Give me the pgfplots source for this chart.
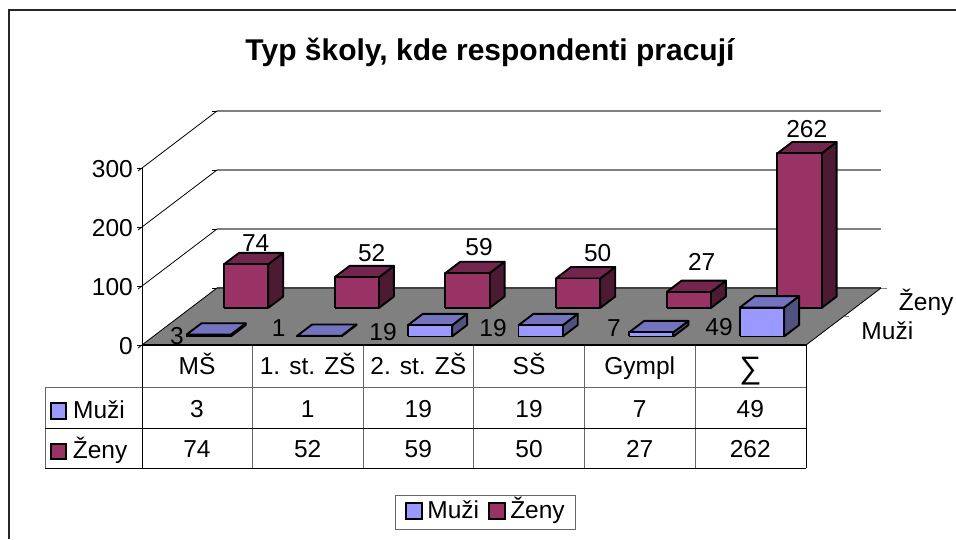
\documentclass[border=0pt]{standalone}
\usepackage{fontspec}
\setmainfont{Liberation Sans}
\usepackage{pgfplots}
\pgfplotsset{compat=1.18}
\definecolor{mf}{HTML}{9999FF}\definecolor{mt}{HTML}{7373BF}\definecolor{ms}{HTML}{525280}
\definecolor{zf}{HTML}{993366}\definecolor{zt}{HTML}{73264D}\definecolor{zs}{HTML}{4D1A33}
\definecolor{fl}{HTML}{808080}
\newcommand\fs{\fontsize{24.5}{29}\selectfont}
\newcommand\dbar[8]{%
\addplot3[forget plot,draw=black,line width=1.9pt,line join=round,fill=#8] coordinates {(#2,#3,0)(#2,#4,0)(#2,#4,#5)(#2,#3,#5)(#2,#3,0)};
\addplot3[forget plot,draw=black,line width=1.9pt,line join=round,fill=#7] coordinates {(#1,#3,#5)(#2,#3,#5)(#2,#4,#5)(#1,#4,#5)(#1,#3,#5)};
\addplot3[forget plot,draw=black,line width=1.9pt,line join=round,fill=#6] coordinates {(#1,#3,0)(#2,#3,0)(#2,#3,#5)(#1,#3,#5)(#1,#3,0)};
}
\begin{document}
\begin{tikzpicture}[x=1pt,y=-1pt]
\path[use as bounding box] (0,0) rectangle (956,539);
\draw[line width=1.6pt,draw=black!85] (9,539) -- (9,10) -- (956,10);
\begin{axis}[
 at={(142pt,-345pt)},anchor=origin,
 x={(110.67pt,0pt)},y={(75pt,57pt)},z={(0pt,0.59pt)},
 xmin=0,xmax=6,ymin=0,ymax=1,zmin=0,zmax=300,
 clip=false,
 axis line style={draw=none},
 xtick=\empty,
 ytick={0.25,0.75},yticklabels={Muži,Ženy},
 ztick={0,100,200,300},
 ztick pos=left,
 /pgf/number format/assume math mode=true,
 tick label style={font=\fs,inner sep=0pt},
 ztick align=outside,
 major tick length=5pt,
 z tick style={draw=black,line width=0.8pt},
 y tick style={draw=none},
 zticklabel style={anchor=east,xshift=-5pt,yshift=1.5pt},
 yticklabel style={anchor=west,xshift=36.5pt},
 legend columns=2,
 legend style={at={(axis cs:3.104,0,-284.5)},anchor=center,font=\fs,draw=black!60,line width=1pt,inner xsep=10pt,inner ysep=4pt,
   nodes={text height=18pt,text depth=6pt,inner sep=1pt},
   /tikz/column 1/.style={column sep=3pt},/tikz/column 2/.style={column sep=8pt},/tikz/column 3/.style={column sep=3pt}},
 legend image code/.code={\draw[#1,draw=black,line width=2.1pt] (0pt,-6pt) rectangle (16pt,10pt);},
]
\addplot3[forget plot,draw=fl,fill=fl] coordinates {(0,0,0)(6,0,0)(6,1,0)(0,1,0)(0,0,0)};
% back wall grid
\addplot3[forget plot,draw=fl,line width=1.2pt] coordinates {(0,1,100)(6,1,100)};
\addplot3[forget plot,draw=fl,line width=1.2pt] coordinates {(0,1,200)(6,1,200)};
\addplot3[forget plot,draw=fl,line width=1.2pt] coordinates {(0,1,300)(6,1,300)};
\addplot3[forget plot,draw=black!75,line width=1.2pt] coordinates {(0,1,0)(6,1,0)};
% left wall
\addplot3[forget plot,draw=black,line width=0.8pt] coordinates {(0,0,0)(0,0,300)};
\addplot3[forget plot,draw=black,line width=0.8pt] coordinates {(0,0,100)(0,1,100)};
\addplot3[forget plot,draw=black,line width=0.8pt] coordinates {(0,0,200)(0,1,200)};
\addplot3[forget plot,draw=black,line width=0.8pt] coordinates {(0,0,300)(0,1,300)};
\addplot3[forget plot,draw=black,line width=0.8pt] coordinates {(0,0,0)(0,1,0)};
\addplot3[forget plot,draw=black,line width=0.8pt] coordinates {(6,0,0)(6,1,0)};
\addplot3[forget plot,draw=fl,line width=0.8pt] coordinates {(6,0.5,0)(6.05,0.5,0)};
\addplot3[forget plot,draw=fl,line width=0.8pt] coordinates {(6,1,0)(6.05,1,0)};
% Ženy
\dbar{0.3}{0.7}{0.65}{0.85}{74}{zf}{zt}{zs}
\dbar{1.3}{1.7}{0.65}{0.85}{52}{zf}{zt}{zs}
\dbar{2.3}{2.7}{0.65}{0.85}{59}{zf}{zt}{zs}
\dbar{3.3}{3.7}{0.65}{0.85}{50}{zf}{zt}{zs}
\dbar{4.3}{4.7}{0.65}{0.85}{27}{zf}{zt}{zs}
\dbar{5.3}{5.7}{0.65}{0.85}{262}{zf}{zt}{zs}
% Muži
\dbar{0.3}{0.7}{0.15}{0.35}{3}{mf}{mt}{ms}
\dbar{1.3}{1.7}{0.15}{0.35}{1}{mf}{mt}{ms}
\dbar{2.3}{2.7}{0.15}{0.35}{19}{mf}{mt}{ms}
\dbar{3.3}{3.7}{0.15}{0.35}{19}{mf}{mt}{ms}
\dbar{4.3}{4.7}{0.15}{0.35}{7}{mf}{mt}{ms}
\dbar{5.3}{5.7}{0.15}{0.35}{49}{mf}{mt}{ms}
\addlegendimage{fill=mf}\addlegendentry{Muži}
\addlegendimage{fill=zf}\addlegendentry{Ženy}
\end{axis}
% title
\node[font=\fontsize{30}{34}\selectfont\bfseries] at (490,52) {Typ školy, kde respondenti pracují};
% data labels
\begin{scope}[every node/.style={font=\fs,inner sep=0pt}]
\node at (255.7,243) {74};\node at (371.7,253) {52};\node at (479,247) {59};
\node at (597.7,252.7) {50};\node at (701.7,262) {27};\node at (806.7,129) {262};
\node at (177,336) {3};\node at (278.7,328) {1};\node at (383,332) {19};
\node at (493,328) {19};\node at (614,328) {7};\node at (719,327) {49};
% table text
\foreach \x/\t in {197/MŠ,307.7/1. st. ZŠ,418.3/2. st. ZŠ,529/SŠ,639.7/Gympl} \node[anchor=base] at (\x,374) {\t};
\node[font=\fontsize{31}{33}\selectfont] at (750.3,371) {∑};
\foreach \x/\t in {197/3,307.7/1,418.3/19,529/19,639.7/7,750.3/49} \node[anchor=base] at (\x,417) {\t};
\foreach \x/\t in {197/74,307.7/52,418.3/59,529/50,639.7/27,750.3/262} \node[anchor=base] at (\x,457.5) {\t};
\node[anchor=base west] at (73,418) {Muži};
\node[anchor=base west] at (72.7,458) {Ženy};
\end{scope}
% table lines
\draw[draw=black!60,line width=1pt] (45,387.7) -- (806,387.7) (45,387.7) -- (45,468);
\foreach \x in {252.3,363,473.7,584.3,695} \draw[draw=black!60,line width=1pt] (\x,345) -- (\x,468);
\draw[line width=1pt] (142,345) -- (142,468) (806,345) -- (806,468) (45,428) -- (806,428) (45,468) -- (806,468);
\draw[line width=1.4pt] (142,345) -- (806,345);
\draw[fill=mf,line width=1.9pt] (51,403) rectangle (66,419);
\draw[fill=zf,line width=1.9pt] (51,444) rectangle (66,459);
\end{tikzpicture}
\end{document}
